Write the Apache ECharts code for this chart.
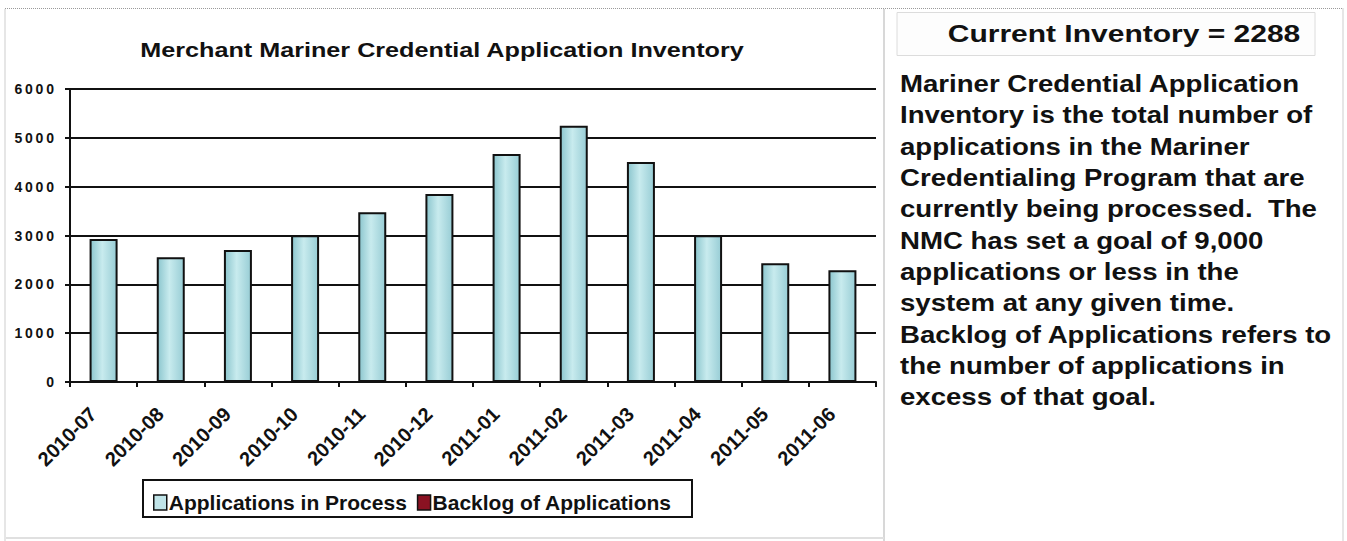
<!DOCTYPE html>
<html>
<head>
<meta charset="utf-8">
<script src="https://cdn.jsdelivr.net/npm/echarts@6/dist/echarts.min.js"></script>
<style>
html,body{margin:0;padding:0;background:#fff;}
#wrap{position:relative;width:1347px;height:541px;overflow:hidden;}
#chart{position:absolute;left:0;top:0;width:1347px;height:541px;}
</style>
</head>
<body>
<div id="wrap"><div id="chart"></div></div>
<script>
const categories = ['2010-07','2010-08','2010-09','2010-10','2010-11','2010-12','2011-01','2011-02','2011-03','2011-04','2011-05','2011-06'];
const inProcess = [2930, 2555, 2705, 3005, 3475, 3850, 4670, 5245, 4505, 3005, 2430, 2288];
const backlog = [0, 0, 0, 0, 0, 0, 0, 0, 0, 0, 0, 0];
const yTicks = {min: 0, max: 6000, interval: 1000};
const titleText = 'Merchant Mariner Credential Application Inventory';
const headline = 'Current Inventory = 2288';
const paragraph = [
  'Mariner Credential Application',
  'Inventory is the total number of',
  'applications in the Mariner',
  'Credentialing Program that are',
  'currently being processed.  The',
  'NMC has set a goal of 9,000',
  'applications or less in the',
  'system at any given time.',
  'Backlog of Applications refers to',
  'the number of applications in',
  'excess of that goal.'
];

const FONT = '"Liberation Sans", Arial, sans-serif';
const chart = echarts.init(document.getElementById('chart'), null, {renderer: 'svg'});

const barFill = new echarts.graphic.LinearGradient(0, 0, 1, 0, [
  {offset: 0, color: '#8cc6ce'},
  {offset: 0.45, color: '#c8ebee'},
  {offset: 1, color: '#98cdd5'}
]);

const graphics = [
  {type: 'rect', shape: {x: 5, y: 8.5, width: 1338, height: 540}, style: {fill: 'none', stroke: '#9a9a9a', lineWidth: 1, lineDash: [1, 1]}, z: -10},
  {type: 'line', shape: {x1: 884, y1: 9, x2: 884, y2: 541}, style: {stroke: '#d8d8d8', lineWidth: 2}, z: -9},
  {type: 'line', shape: {x1: 6, y1: 538, x2: 884, y2: 538}, style: {stroke: '#e0e0e0', lineWidth: 2}, z: -9},
  {type: 'rect', shape: {x: 897, y: 12.5, width: 418, height: 43}, style: {fill: '#fdfdfd', stroke: '#dcdcdc', lineWidth: 1}, z: -8},
  {type: 'text', x: 1124, y: 34, scaleX: 1.25, style: {text: headline, font: 'bold 24px ' + FONT, fill: '#111', align: 'center', verticalAlign: 'middle'}},
  {type: 'text', x: 442, y: 50, scaleX: 1.26, style: {text: titleText, font: 'bold 20px ' + FONT, fill: '#111', align: 'center', verticalAlign: 'middle'}},
  {type: 'rect', shape: {x: 143, y: 480, width: 549, height: 37}, style: {fill: '#fff', stroke: '#111', lineWidth: 2}, z: 0}
];
paragraph.forEach((line, i) => {
  graphics.push({type: 'text', x: 900, y: 84 + i * 31.3, scaleX: 1.2, style: {text: line, font: 'bold 23px ' + FONT, fill: '#111', align: 'left', verticalAlign: 'middle'}});
});

chart.setOption({
  animation: false,
  backgroundColor: '#fff',
  grid: {left: 70, right: 471, top: 89, bottom: 159, containLabel: false},
  legend: {
    left: 148, top: 487, itemWidth: 13, itemHeight: 15, itemGap: 10,
    icon: 'rect', z: 5,
    textStyle: {fontFamily: FONT, fontWeight: 'bold', fontSize: 21, color: '#111', padding: [0, 0, 0, -3]},
    data: [
      {name: 'Applications in Process', itemStyle: {color: '#c0e4e8', borderColor: '#111', borderWidth: 1.5}},
      {name: 'Backlog of Applications', itemStyle: {color: '#8a1222', borderColor: '#111', borderWidth: 1.5}}
    ]
  },
  xAxis: {
    type: 'category', data: categories,
    axisLine: {lineStyle: {color: '#111', width: 2}},
    axisTick: {show: true, length: 5, lineStyle: {color: '#111', width: 2}},
    axisLabel: {rotate: 45, margin: 18, padding: [0, 15, 0, 0], fontFamily: FONT, fontWeight: 'bold', fontSize: 20, color: '#111', interval: 0},
    splitLine: {show: false}
  },
  yAxis: {
    type: 'value', min: yTicks.min, max: yTicks.max, interval: yTicks.interval,
    axisLine: {show: true, lineStyle: {color: '#111', width: 2}},
    axisTick: {show: true, length: 5, lineStyle: {color: '#111', width: 2}},
    axisLabel: {margin: 16, fontFamily: FONT, fontWeight: 'bold', fontSize: 14, color: '#111',
      formatter: v => String(v).split('').join('\u2009')},
    splitLine: {show: true, lineStyle: {color: '#111', width: 2}}
  },
  series: [
    {name: 'Applications in Process', type: 'bar', stack: 'inv', data: inProcess, barWidth: 28,
      itemStyle: {color: barFill, borderColor: '#111', borderWidth: 2}, z: 3},
    {name: 'Backlog of Applications', type: 'bar', stack: 'inv', data: backlog, barWidth: 28,
      itemStyle: {color: '#8a1222', borderWidth: 0}, z: 3}
  ],
  graphic: graphics
});
</script>
</body>
</html>
